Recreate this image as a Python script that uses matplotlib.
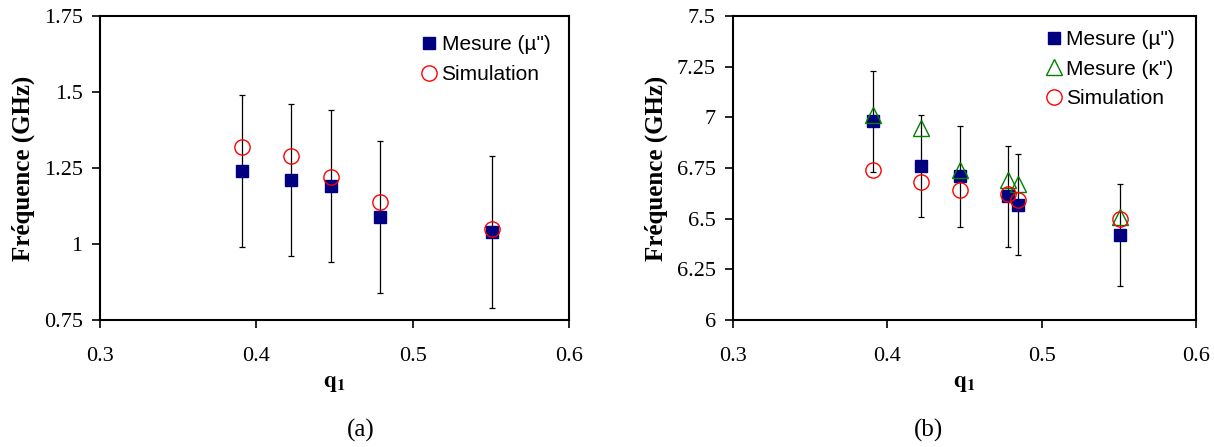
import numpy as np
import matplotlib
matplotlib.use("Agg")
import matplotlib.pyplot as plt

# panel (a)
q_a = [0.391, 0.422, 0.448, 0.479, 0.551]
mes_mu_a = [1.24, 1.21, 1.19, 1.09, 1.04]
sim_a = [1.32, 1.29, 1.22, 1.14, 1.05]
err_a = [0.25, 0.25, 0.25, 0.25, 0.25]

# panel (b)
q_b = [0.391, 0.422, 0.447, 0.478, 0.485, 0.551]
mes_mu_b = [6.98, 6.76, 6.71, 6.61, 6.57, 6.42]
mes_kappa_b = [7.01, 6.95, 6.74, 6.69, 6.67, 6.51]
sim_b = [6.74, 6.68, 6.64, 6.62, 6.59, 6.50]
err_b = [0.25, 0.25, 0.25, 0.25, 0.25, 0.25]

x_ticks = [0.3, 0.4, 0.5, 0.6]
y_ticks_a = [0.75, 1, 1.25, 1.5, 1.75]
y_ticks_b = [6, 6.25, 6.5, 6.75, 7, 7.25, 7.5]

serif = "Liberation Serif"
sans = "Liberation Sans"
navy = "#000080"

plt.rcParams["mathtext.fontset"] = "stix"

fig = plt.figure(figsize=(12.14, 4.47), dpi=100)
ax_a = fig.add_axes([0.0824, 0.284, 0.3863, 0.680])
ax_b = fig.add_axes([0.6038, 0.284, 0.3813, 0.680])


def style_axes(ax, yticks, ylim):
    ax.set_xlim(0.3, 0.6)
    ax.set_ylim(*ylim)
    ax.set_xticks(x_ticks)
    ax.set_xticklabels([f"{t:g}" for t in x_ticks])
    ax.set_yticks(yticks)
    ax.set_yticklabels([f"{t:g}" for t in yticks])
    ax.tick_params(direction="out", length=5.5, width=1.2,
                   top=False, right=False)
    ax.tick_params(axis="x", pad=14)
    ax.tick_params(axis="y", pad=7)
    for lab in ax.get_xticklabels() + ax.get_yticklabels():
        lab.set_fontfamily(serif)
        lab.set_fontsize(16)
    for sp in ax.spines.values():
        sp.set_linewidth(1.5)
    ax.set_xlabel(r"$\mathbf{q}_{\mathbf{1}}$", fontsize=17, labelpad=3)
    ax.set_ylabel("Fréquence (GHz)", fontfamily=serif, fontsize=18,
                  fontweight="bold", labelpad=6)


# (a)
ax_a.errorbar(q_a, mes_mu_a, yerr=err_a, fmt="none", ecolor="black",
              elinewidth=0.9, capsize=2.5, capthick=0.9, zorder=1)
ax_a.plot(q_a, mes_mu_a, "s", color=navy, markersize=9, linestyle="none",
          label='Mesure (µ")', zorder=2)
ax_a.plot(q_a, sim_a, "o", markerfacecolor="none", markeredgecolor="red",
          markersize=11, markeredgewidth=1.0, linestyle="none",
          label="Simulation", zorder=3)
style_axes(ax_a, y_ticks_a, (0.75, 1.75))
ax_a.legend(loc="upper right", bbox_to_anchor=(1.0, 1.0), frameon=False,
            prop={"family": sans, "size": 15},
            handletextpad=0.0, handlelength=1.2, borderaxespad=0.5,
            labelspacing=0.55)

# (b)
ax_b.errorbar(q_b, mes_mu_b, yerr=err_b, fmt="none", ecolor="black",
              elinewidth=0.9, capsize=2.5, capthick=0.9, zorder=1)
ax_b.plot(q_b, mes_mu_b, "s", color=navy, markersize=9, linestyle="none",
          label='Mesure (µ")', zorder=2)
ax_b.plot(q_b, mes_kappa_b, "^", markerfacecolor="none", markeredgecolor="green",
          markersize=11, markeredgewidth=1.0, linestyle="none",
          label='Mesure (κ")', zorder=3)
ax_b.plot(q_b, sim_b, "o", markerfacecolor="none", markeredgecolor="red",
          markersize=11, markeredgewidth=1.0, linestyle="none",
          label="Simulation", zorder=3)
style_axes(ax_b, y_ticks_b, (6, 7.5))
ax_b.legend(loc="upper right", bbox_to_anchor=(0.995, 1.015), frameon=False,
            prop={"family": sans, "size": 15},
            handletextpad=0.0, handlelength=1.2, borderaxespad=0.5,
            labelspacing=0.5)

fig.text(0.297, 0.036, "(a)", fontfamily=serif, fontsize=18,
         ha="center", va="center")
fig.text(0.765, 0.036, "(b)", fontfamily=serif, fontsize=18,
         ha="center", va="center")

fig.savefig("out.png", dpi=100)
